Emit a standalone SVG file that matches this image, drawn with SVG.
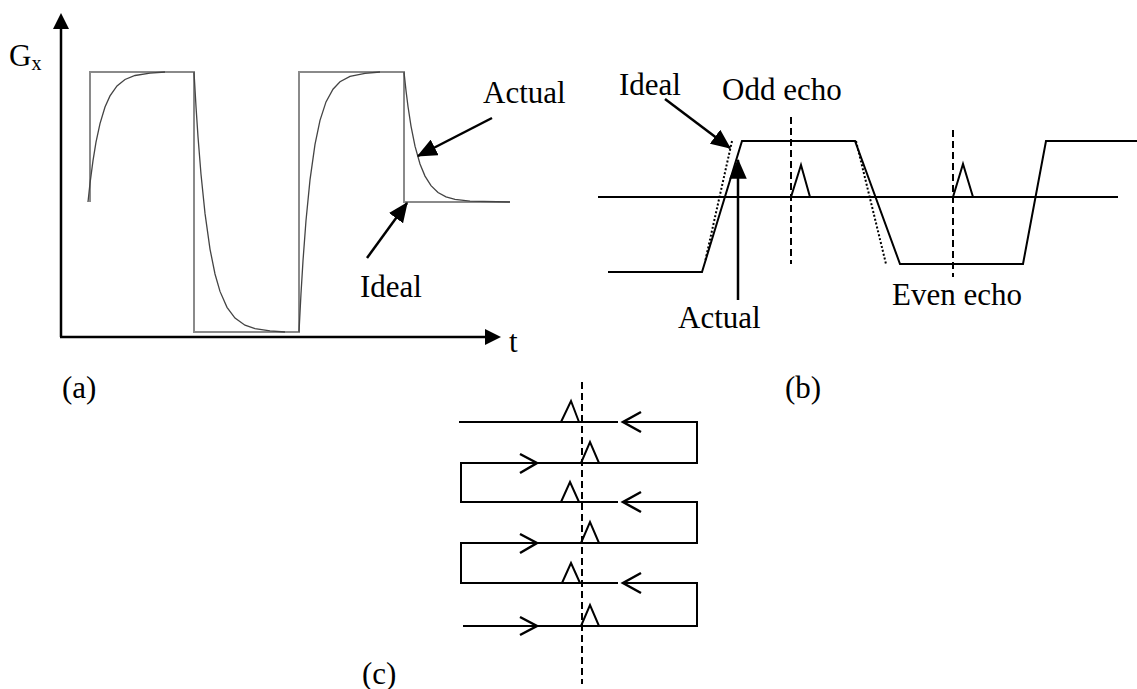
<svg xmlns="http://www.w3.org/2000/svg" width="1137" height="689" viewBox="0 0 1137 689">
<defs>
<style>
.t{font-family:"Liberation Serif","Times New Roman",serif;font-size:31px;fill:#000}
.ax{stroke:#000;stroke-width:2.5;fill:none}
.ideal{stroke:#8a8a8a;stroke-width:2;fill:none}
.actual{stroke:#444;stroke-width:1.3;fill:none}
.ln{stroke:#000;stroke-width:2;fill:none}
.dot{stroke:#000;stroke-width:2;fill:none;stroke-dasharray:2 2}
.dash{stroke:#000;stroke-width:2;fill:none;stroke-dasharray:7 4}
.arr{stroke:#000;stroke-width:2.5;fill:none}
.head{fill:#000;stroke:none}
</style>
<marker id="ah" markerWidth="8" markerHeight="7" refX="7.5" refY="3.5" orient="auto" markerUnits="strokeWidth">
<path d="M0,0 L8,3.5 L0,7 Z" class="head"/>
</marker>
</defs>
<rect width="1137" height="689" fill="#fff"/>

<g id="panel-a">
<g id="axes">
<line class="ax" x1="61" y1="26" x2="61" y2="337"/>
<path class="head" d="M61,13 L53,29 L69,29 Z"/>
<line class="ax" x1="60" y1="337" x2="487" y2="337"/>
<path class="head" d="M501,337 L485,329 L485,345 Z"/>
<text class="t" x="9" y="66">G<tspan font-size="20" dy="4">x</tspan></text>
<text class="t" x="509" y="352">t</text>
</g>
<g id="ideal-wave">
<path class="ideal" d="M90,202 L90,72 L194,72 L194,332 L299,332 L299,72 L404,72 L404,202 L510,202"/>
</g>
<g id="actual-wave">
<path class="actual" d="M88,202 L90,183.4 L93,160.6 L96,142.2 L100,123.6 L105,107.1 L110,95.9 L117,85.9 L125,79.5 L135,75.5 L150,73.1 L165,72"/>
<path class="actual" d="M194,72 L196,106.6 L198,136.7 L201,174.2 L205,213.4 L210,249.1 L215,274 L220,291.4 L227,307.3 L235,318.1 L245,325.2 L255,328.7 L270,330.9 L285,332"/>
<path class="actual" d="M299,332 L301,293.5 L303,260.8 L306,220.5 L310,179.9 L315,144.3 L320,120.4 L326,101.9 L333,89.2 L340,81.8 L350,76.4 L365,73.3 L380,72"/>
<path class="actual" d="M404,72 L406,90.6 L408,106.5 L411,126.1 L415,146.2 L420,164 L425,176.1 L431,185.7 L438,192.5 L446,196.9 L455,199.4 L470,201.2 L510,202"/>
</g>
<g id="label-actual-a">
<text class="t" x="483" y="103">Actual</text>
<line class="arr" x1="492" y1="118" x2="418" y2="156" marker-end="url(#ah)"/>
</g>
<g id="label-ideal-a">
<text class="t" x="360" y="297">Ideal</text>
<line class="arr" x1="367" y1="258" x2="407" y2="203" marker-end="url(#ah)"/>
</g>
<text class="t" x="62" y="398">(a)</text>
</g>

<g id="panel-b">
<line class="ln" x1="598" y1="197" x2="1118" y2="197"/>
<path class="ln" d="M608,272 L702,272 L742,141 L855,141 L900,264 L1023,264 L1046,141 L1137,141"/>
<path class="dot" d="M732,141 L705,262"/>
<path class="dot" d="M856,141 L886,264"/>
<line class="dash" x1="791" y1="117" x2="791" y2="264"/>
<line class="dash" x1="953" y1="130" x2="953" y2="277"/>
<path class="ln" d="M791,197 L801,165 L810,197"/>
<path class="ln" d="M953,197 L963,164 L973,197"/>
<g id="label-ideal-b">
<text class="t" x="619" y="95">Ideal</text>
<line class="arr" x1="665" y1="99" x2="730" y2="148" marker-end="url(#ah)"/>
</g>
<g id="label-actual-b">
<text class="t" x="678" y="328">Actual</text>
<line class="arr" x1="738" y1="300" x2="738" y2="160" marker-end="url(#ah)"/>
</g>
<text class="t" x="722" y="100">Odd echo</text>
<text class="t" x="892" y="305">Even echo</text>
<text class="t" x="785" y="398">(b)</text>
</g>

<g id="panel-c">
<line class="dash" x1="582" y1="382" x2="582" y2="684"/>
<path class="ln" d="M459,422 L618,422 M623,422 L697,422 L697,463 L461,463 L461,502 L618,502 M623,502 L697,502 L697,543 L461,543 L461,583 L618,583 M623,583 L697,583 L697,626 L463,626"/>
<path class="arr" d="M641,412 L623,422 L641,432"/>
<path class="arr" d="M641,492 L623,502 L641,512"/>
<path class="arr" d="M641,573 L623,583 L641,593"/>
<path class="arr" d="M520,454 L537,463 L520,473"/>
<path class="arr" d="M520,534 L537,543 L520,553"/>
<path class="arr" d="M520,617 L537,626 L520,635"/>
<path class="ln" d="M561,422 L571,401 L579,422"/>
<path class="ln" d="M561,502 L570,482 L579,502"/>
<path class="ln" d="M562,583 L571,563 L580,583"/>
<path class="ln" d="M581,463 L590,442 L599,463"/>
<path class="ln" d="M581,543 L590,522 L599,543"/>
<path class="ln" d="M581,626 L590,605 L599,626"/>
<text class="t" x="362" y="684">(c)</text>
</g>
</svg>
